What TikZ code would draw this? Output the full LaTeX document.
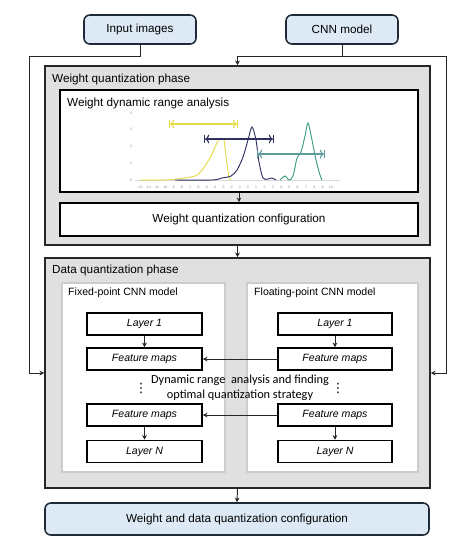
\documentclass[tikz,border=0pt]{standalone}
\usepackage{fontspec}
\setmainfont{Liberation Sans}
\newfontfamily\calibfont{Carlito}
\newfontfamily\symfont{DejaVu Sans}
\usepackage{xcolor}
\usepackage{tikz}
\usetikzlibrary{
    arrows.meta,
    positioning
}
\definecolor{iofill}{HTML}{DDE9F5}
\definecolor{iodraw}{HTML}{1E2A38}
\definecolor{phasegray}{HTML}{E0E0E0}
\definecolor{wyellow}{HTML}{E6DA4E}
\definecolor{wnavy}{HTML}{2F2F60}
\definecolor{wteal}{HTML}{3E9C86}
\definecolor{wtealbar}{HTML}{5E9C9C}

\begin{document}
\begin{tikzpicture}[x=0.03cm, y=-0.03cm, font=\fontsize{10}{12}\selectfont,
    io/.style={draw=iodraw, line width=1.3pt, rounded corners=5pt, fill=iofill,
               minimum width=3.36cm, minimum height=0.87cm, inner sep=0pt},
    phase/.style={draw=black!85, line width=1.3pt, fill=phasegray, inner sep=0pt},
    wbox/.style={draw=black, line width=1.4pt, fill=white, inner sep=0pt},
    panel/.style={draw=black!20, line width=1.5pt, fill=white, inner sep=0pt},
    layerbox/.style={draw=black, line width=1.3pt, fill=white, minimum height=0.66cm,
                     inner sep=0pt, font=\fontsize{9}{11}\selectfont\itshape},
    title/.style={anchor=west, inner sep=0pt},
    dots/.style={inner sep=0pt, font=\symfont\fontsize{11}{11}\selectfont},
    arr/.style={-{Stealth[length=4pt,width=4pt]}, line width=0.8pt, draw=black!85},
    tick/.style={font=\fontsize{3}{3}\selectfont, text=black!45, inner sep=0pt}]

    \useasboundingbox (0,0) rectangle (467,549);

    % ============ INPUTS ============
    \node[io] (inp) at (140,29.5) {Input images};
    \node[io] (cnn) at (342,29.5) {CNN model};

    % ============ WEIGHT QUANTIZATION PHASE ============
    \node[phase, minimum width=11.55cm, minimum height=5.37cm] (wph) at (237.5,155.5) {};
    \node[title] (wphT) at (52,79) {Weight quantization phase};
    \node[wbox, minimum width=10.74cm, minimum height=3.06cm] (wdr) at (239,141) {};
    \node[title] (wdrT) at (67,103) {Weight dynamic range analysis};
    \node[wbox, minimum width=10.74cm, minimum height=0.99cm] (wqc) at (239,219.5)
      {Weight quantization configuration};

    % small range plot
    \draw[black!15, line width=0.5pt] (135,180) -- (340,180);
    \foreach \v [count=\k] in {-13,...,10}
      \node[tick] at (140+\k*8.3-8.3,187) {\v};
    \foreach \v [count=\k] in {4,3,2,1,0}
      \node[tick] at (131,113+\k*16.75-16.75) {\v};
    \draw[wyellow, line width=0.8pt] plot[smooth] coordinates
      {(140,180) (165,180) (185,178) (197,175) (205,166) (212,154) (219,139) (224,139)}
      -- (226,156) -- (229,178) -- (231,180);
    \draw[wnavy, line width=0.8pt] plot[smooth] coordinates
      {(175,180) (212,180) (222,178) (231,176) (237,170) (243,157) (248,140) (252,127)
       (256,140) (259,162) (263,178) (268,179) (272,178) (276,180)};
    \draw[wteal, line width=0.8pt] plot[smooth] coordinates
      {(280,180) (285,176) (289,180) (293,176) (297,158) (301,152) (305,136) (308,123)
       (312,140) (316,160) (320,175) (322,180)};
    \draw[wyellow, line width=0.9pt, |<->|] (169,124) -- (238,124);
    \draw[wnavy, line width=0.9pt, |<->|] (204,139) -- (274,139);
    \draw[wtealbar, line width=0.9pt, |<->|] (257,154) -- (325,154);

    % ============ DATA QUANTIZATION PHASE ============
    \node[phase, minimum width=11.55cm, minimum height=6.9cm] (dph) at (237.5,373) {};
    \node[title] (dphT) at (52,270) {Data quantization phase};
    \node[panel, minimum width=4.89cm, minimum height=5.67cm] (fix) at (143.5,377.5) {};
    \node[panel, minimum width=5.13cm, minimum height=5.67cm] (flo) at (332.5,377.5) {};
    \node[title, font=\fontsize{9}{11}\selectfont] (fixT) at (68,293) {Fixed-point CNN model};
    \node[title, font=\fontsize{9}{11}\selectfont] (floT) at (254,293) {Floating-point CNN model};

    % fixed-point layers
    \node[layerbox, minimum width=3.45cm] (lL1) at (144.5,324) {Layer 1};
    \node[layerbox, minimum width=3.45cm] (lF1) at (144.5,359) {Feature maps};
    \node[layerbox, minimum width=3.45cm] (lF2) at (144.5,415) {Feature maps};
    \node[layerbox, minimum width=3.45cm] (lLN) at (144.5,451.5) {Layer N};
    \node[dots] (lDots) at (141,388) {⋮};

    % floating-point layers
    \node[layerbox, minimum width=3.42cm] (rL1) at (335,324) {Layer 1};
    \node[layerbox, minimum width=3.42cm] (rF1) at (335,359) {Feature maps};
    \node[layerbox, minimum width=3.42cm] (rF2) at (335,415) {Feature maps};
    \node[layerbox, minimum width=3.42cm] (rLN) at (335,451.5) {Layer N};
    \node[dots] (rDots) at (338,388) {⋮};

    \node[font=\calibfont\fontsize{10.5}{13}\selectfont, align=center, inner sep=0pt] (dra)
      at (240,387.5) {Dynamic range\ \ analysis and finding\\optimal quantization strategy};

    % ============ OUTPUT ============
    \node[io, minimum width=11.52cm, minimum height=0.96cm] (fin) at (237,519)
      {Weight and data quantization configuration};

    % ============ CONNECTORS ============
    \coordinate (ltop) at (29,56);
    \coordinate (rtop) at (446,56);
    \draw[arr] (inp.south) |- (ltop) |- (dph.west);
    \draw[arr] (cnn.south) |- (wph.north |- rtop) -- (wph.north);
    \draw[arr] (cnn.south) |- (rtop) |- (dph.east);

    \draw[arr] (wdr.south) -- (wqc.north);
    \draw[arr] (wph.south) -- (dph.north);

    \draw[arr] (lL1.south) -- (lF1.north);
    \draw[arr] (lF2.south) -- (lLN.north);
    \draw[arr] (rL1.south) -- (rF1.north);
    \draw[arr] (rF2.south) -- (rLN.north);
    \draw[arr] (rF1.west) -- (lF1.east);
    \draw[arr] (rF2.west) -- (lF2.east);

    \draw[arr] (dph.south) -- (fin.north);

\end{tikzpicture}
\end{document}
